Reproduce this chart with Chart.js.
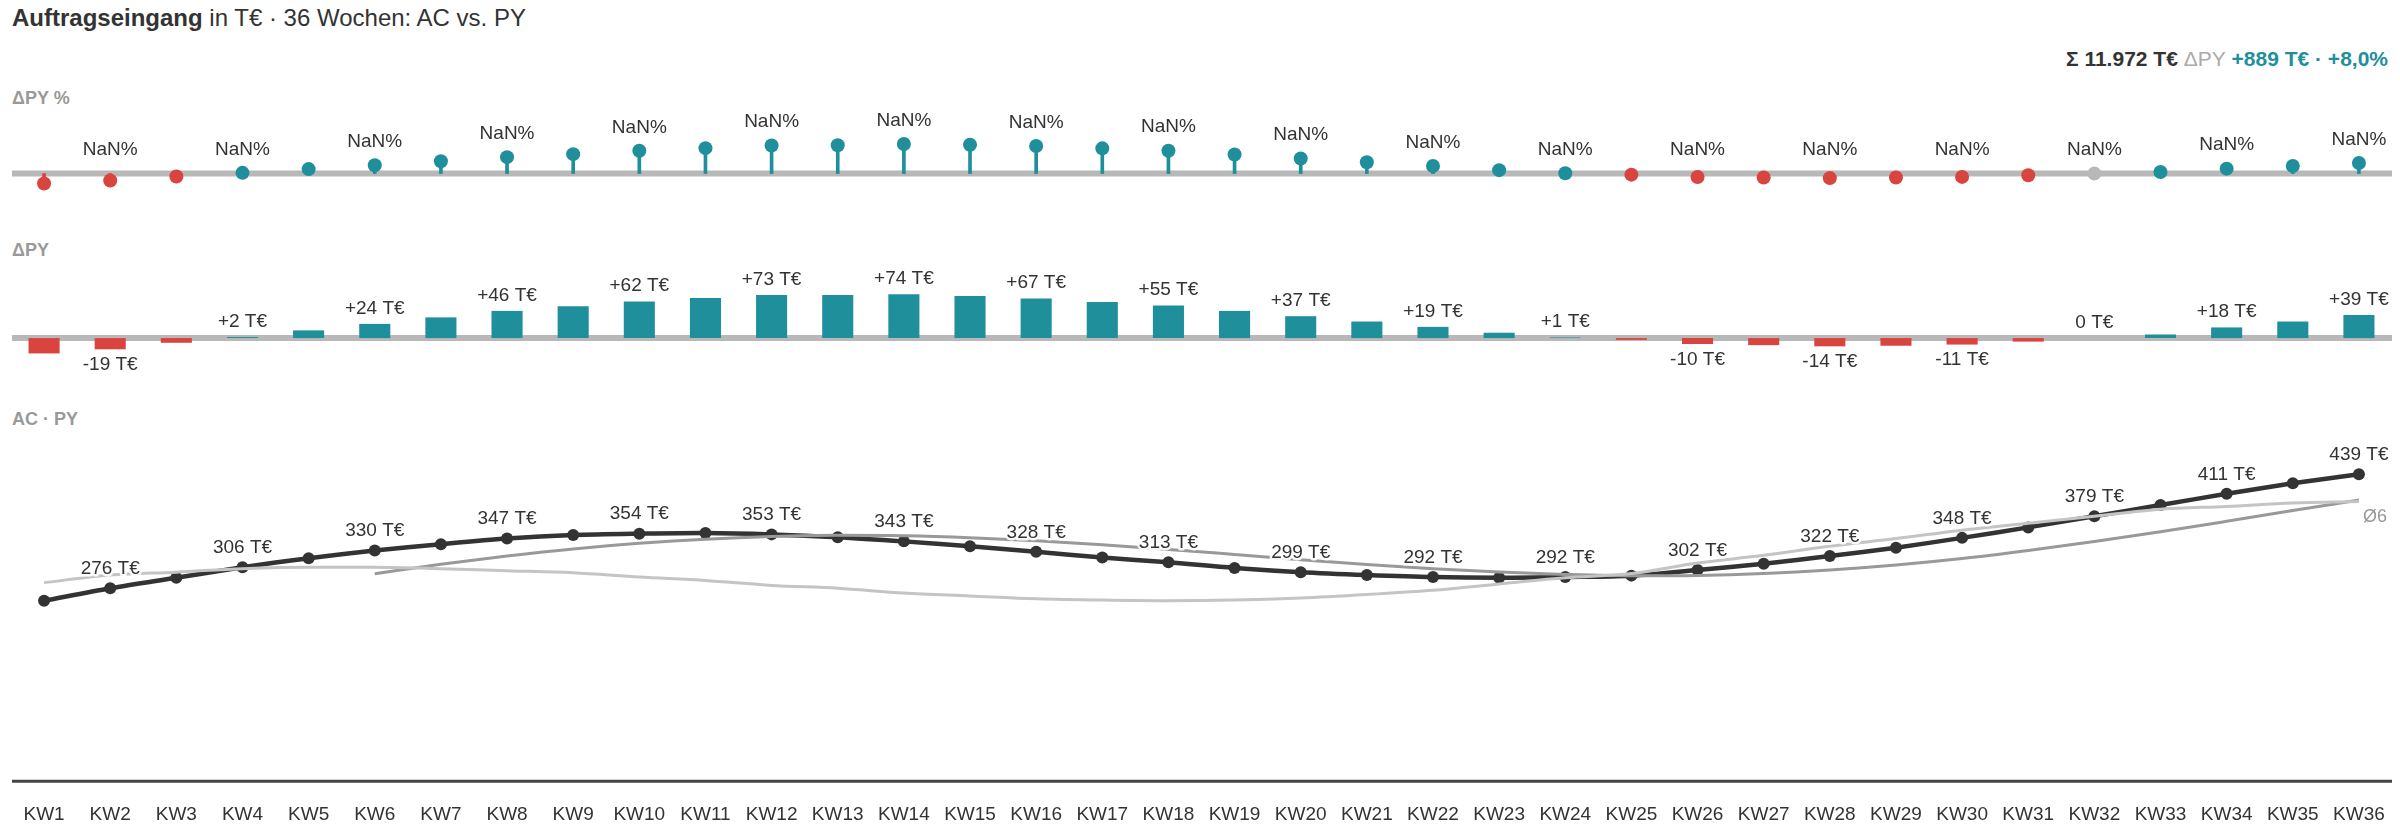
<!DOCTYPE html>
<html>
<head>
<meta charset="utf-8">
<script src="https://cdn.jsdelivr.net/npm/chart.js@4.4.1/dist/chart.umd.min.js"></script>
<style>
  body { margin: 0; width: 2400px; height: 840px; background: #fff; font-family: "Liberation Sans", Arial, sans-serif; color: #333; overflow: hidden; }
  .abs { position: absolute; }
  #title { left: 12px; top: 4px; font-size: 24px; }
  #summary { right: 12px; top: 47px; font-size: 21px; font-weight: bold; }
  .panel-label { left: 12px; font-size: 18px; font-weight: bold; color: #999; }
  canvas { position: absolute; left: 0; }
</style>
</head>
<body>
<div id="title" class="abs"><b>Auftragseingang</b> in T€ · 36 Wochen: AC vs. PY</div>
<div id="summary" class="abs">Σ 11.972 T€ <span style="color:#aaa;font-weight:normal">ΔPY</span> <span style="color:#1f8f9c">+889 T€ · +8,0%</span></div>
<div class="abs panel-label" style="top:88px">ΔPY %</div>
<div class="abs panel-label" style="top:240px">ΔPY</div>
<div class="abs panel-label" style="top:409px">AC · PY</div>

<canvas id="pct" width="2400" height="130" style="top:100px"></canvas>
<canvas id="delta" width="2400" height="140" style="top:240px"></canvas>
<canvas id="main" width="2400" height="420" style="top:420px"></canvas>

<script>
// Weeks
const weeks = Array.from({ length: 36 }, (_, i) => 'KW' + (i + 1));

// Actual (AC) in T€
const acValues = [258, 276, 291, 306, 319, 330, 339, 347, 352, 354, 355, 353, 349, 343, 336, 328, 320, 313,
                  305, 299, 295, 292, 291, 292, 294, 302, 311, 322, 334, 348, 363, 379, 395, 411, 426, 439];

// Previous year (PY) in T€
const pyValues = [284, 295, 299, 304, 306, 306, 304, 301, 298, 292, 287, 280, 276, 269, 265, 261, 259, 258,
                  259, 262, 267, 273, 282, 291, 297, 312, 323, 336, 347, 359, 369, 379, 389, 393, 398, 400];

// 6-week moving average (Ø6)
const avg6Values = [null, null, null, null, null, 296.7, 310.2, 322, 332.2, 340.2, 346.2, 350, 351.7, 351, 348.3, 344,
                    338.2, 331.5, 324.2, 316.8, 310, 304, 299.2, 295.7, 293.8, 294.3, 297, 302, 309.2, 318.5, 330,
                    342.8, 356.8, 371.7, 387, 402.2];

// ΔPY in T€
const deltaValues = [-26, -19, -8, 2, 13, 24, 35, 46, 54, 62, 68, 73, 73, 74, 71, 67, 61, 55,
                     46, 37, 28, 19, 9, 1, -3, -10, -12, -14, -13, -11, -6, 0, 6, 18, 28, 39];

// ΔPY in %
const pctValues = [-9.2, -6.4, -2.7, 0.7, 4.2, 7.8, 11.5, 15.3, 18.1, 21.2, 23.7, 26.1, 26.4, 27.5, 26.8, 25.7, 23.5, 21.3,
                   17.8, 14.1, 10.5, 7.0, 3.2, 0.3, -1.0, -3.2, -3.7, -4.2, -3.7, -3.1, -1.6, 0.0, 1.5, 4.6, 7.0, 9.8];

const TEAL = '#1f8f9c';
const RED = '#d9443f';
const GREY = '#b8b8b8';
const LABEL_FONT = '19px "Liberation Sans", Arial, sans-serif';

Chart.defaults.font.family = '"Liberation Sans", Arial, sans-serif';
Chart.defaults.animation = false;
Chart.defaults.devicePixelRatio = 1;

const signColor = v => v > 0 ? TEAL : (v < 0 ? RED : GREY);
const fmtPct = v => (v > 0 ? '+' : (v < 0 ? '\u2212' : '')) + Math.abs(v).toFixed(1).replace('.', ',') + '%';
const fmtDelta = v => (v > 0 ? '+' : (v < 0 ? '-' : '')) + Math.abs(v) + ' T€';

// Thick grey zero line behind the marks
const baselinePlugin = {
    id: 'baseline',
    beforeDatasetsDraw(chart, args, opts) {
        const { ctx, chartArea, scales } = chart;
        const y = scales.y.getPixelForValue(0);
        ctx.save();
        ctx.strokeStyle = opts.color || GREY;
        ctx.lineWidth = opts.width || 6;
        ctx.beginPath();
        ctx.moveTo(12, y);
        ctx.lineTo(2392, y);
        ctx.stroke();
        ctx.restore();
    }
};

// Value labels on every second week
function labelPlugin(datasetIndex, format, gap) {
    return {
        id: 'labels' + datasetIndex,
        afterDatasetsDraw(chart) {
            const { ctx } = chart;
            const meta = chart.getDatasetMeta(datasetIndex);
            const data = chart.data.datasets[datasetIndex].data;
            ctx.save();
            ctx.font = LABEL_FONT;
            ctx.textAlign = 'center';
            ctx.fillStyle = '#333';
            meta.data.forEach((el, i) => {
                if (i % 2 === 0) return;
                const v = data[i];
                const zero = chart.scales.y.getPixelForValue(0);
                if (v < 0) {
                    ctx.textBaseline = 'top';
                    ctx.fillText(format(v), el.x, Math.max(el.y, zero) + gap);
                } else {
                    ctx.textBaseline = 'bottom';
                    ctx.fillText(format(v), el.x, Math.min(el.y, zero) - gap);
                }
            });
            ctx.restore();
        }
    };
}

const sharedLayout = { padding: { left: 11, right: 8, top: 0, bottom: 0 } };
const hiddenX = { type: 'category', display: false, offset: true, grid: { display: false } };

// ΔPY % lollipops
new Chart(document.getElementById('pct'), {
    type: 'bar',
    data: {
        labels: weeks,
        datasets: [
            { type: 'scatter', data: pctValues.map((v, i) => ({ x: weeks[i], y: v })),
              pointRadius: 7, pointBackgroundColor: pctValues.map(signColor), pointBorderWidth: 0 },
            { data: pctValues, backgroundColor: pctValues.map(signColor), barThickness: 3 }
        ]
    },
    options: {
        responsive: false,
        layout: sharedLayout,
        plugins: { legend: { display: false }, tooltip: { enabled: false }, baseline: { width: 6 } },
        scales: { x: hiddenX, y: { display: false, min: -46, max: 62 } }
    },
    plugins: [baselinePlugin, labelPlugin(0, fmtPct, 14)]
});

// ΔPY bars
new Chart(document.getElementById('delta'), {
    type: 'bar',
    data: {
        labels: weeks,
        datasets: [{ data: deltaValues, backgroundColor: deltaValues.map(signColor), barPercentage: 0.47, categoryPercentage: 1 }]
    },
    options: {
        responsive: false,
        layout: sharedLayout,
        plugins: { legend: { display: false }, tooltip: { enabled: false }, baseline: { width: 6 } },
        scales: { x: hiddenX, y: { display: false, min: -71, max: 166 } }
    },
    plugins: [baselinePlugin, labelPlugin(0, fmtDelta, 6)]
});

// AC line with PY and Ø6
const acLabels = {
    id: 'acLabels',
    afterDatasetsDraw(chart) {
        const { ctx } = chart;
        const meta = chart.getDatasetMeta(2);
        ctx.save();
        ctx.font = LABEL_FONT;
        ctx.textAlign = 'center';
        ctx.textBaseline = 'bottom';
        ctx.lineJoin = 'round';
        meta.data.forEach((el, i) => {
            if (i % 2 === 0) return;
            const txt = acValues[i] + ' T€';
            ctx.strokeStyle = 'rgba(255,255,255,0.9)';
            ctx.lineWidth = 5;
            ctx.strokeText(txt, el.x, el.y - 10);
            ctx.fillStyle = '#333';
            ctx.fillText(txt, el.x, el.y - 10);
        });
        const avgMeta = chart.getDatasetMeta(1);
        const last = avgMeta.data[avgMeta.data.length - 1];
        ctx.font = '18px "Liberation Sans", Arial, sans-serif';
        ctx.fillStyle = '#999';
        ctx.textAlign = 'left';
        ctx.textBaseline = 'top';
        ctx.fillText('Ø6', last.x + 4, last.y + 8);
        // bottom axis line
        const y0 = chart.scales.y.getPixelForValue(0);
        ctx.strokeStyle = '#444';
        ctx.lineWidth = 3;
        ctx.beginPath();
        ctx.moveTo(12, y0);
        ctx.lineTo(2392, y0);
        ctx.stroke();
        ctx.restore();
    }
};

new Chart(document.getElementById('main'), {
    type: 'line',
    data: {
        labels: weeks,
        datasets: [
            { label: 'PY', data: pyValues, borderColor: '#c4c4c4', borderWidth: 3, pointRadius: 0, tension: 0.4, cubicInterpolationMode: 'monotone' },
            { label: 'Ø6', data: avg6Values, borderColor: '#999', borderWidth: 3, pointRadius: 0, tension: 0.4, cubicInterpolationMode: 'monotone' },
            { label: 'AC', data: acValues, borderColor: '#333', borderWidth: 4.5, pointRadius: 6,
              pointBackgroundColor: '#333', pointBorderWidth: 0, tension: 0.3 }
        ]
    },
    options: {
        responsive: false,
        layout: sharedLayout,
        plugins: { legend: { display: false }, tooltip: { enabled: false } },
        scales: {
            x: { type: 'category', offset: true, grid: { display: false }, border: { display: false },
                 ticks: { color: '#333', font: { size: 19 }, padding: 14, maxRotation: 0, autoSkip: false } },
            y: { display: false, min: 0, max: 508 }
        }
    },
    plugins: [acLabels]
});
</script>
</body>
</html>
